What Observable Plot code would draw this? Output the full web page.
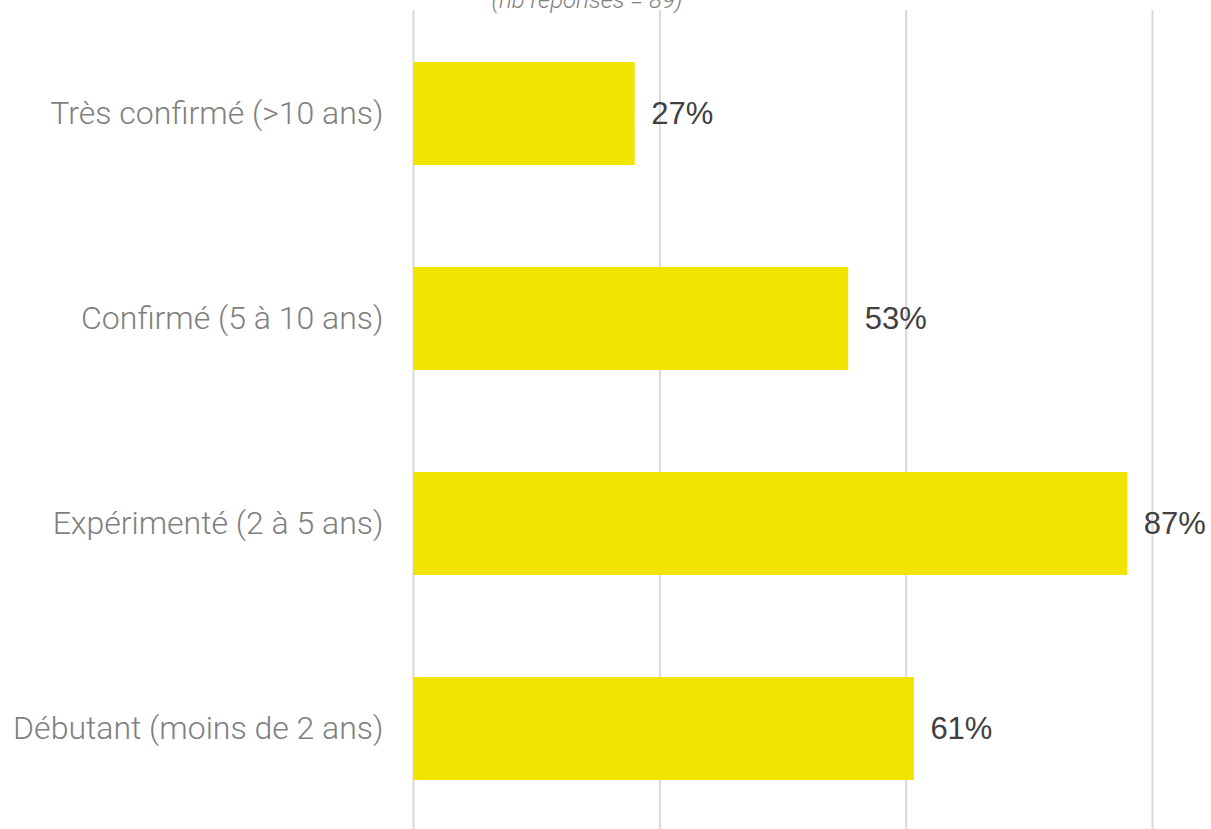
<!DOCTYPE html>
<html>
<head>
<meta charset="utf-8">
<script src="https://cdn.jsdelivr.net/npm/d3@7"></script>
<script src="https://cdn.jsdelivr.net/npm/@observablehq/plot@0.6"></script>
<style>
  html, body { margin: 0; padding: 0; background: #fff; overflow: hidden; }
  #wrap { position: relative; width: 1211px; height: 829px; }
  #note { position: absolute; top: -12px; left: 487px; width: 200px; text-align: center;
          font-family: Roboto, sans-serif; font-weight: 300; font-style: italic; font-size: 24px;
          line-height: 24px; color: #7f7f7f; white-space: nowrap; }
</style>
</head>
<body>
<div id="wrap"><div id="note">(nb réponses = 89)</div></div>
<script>
const categories = [
  "Très confirmé (>10 ans)",
  "Confirmé (5 à 10 ans)",
  "Expérimenté (2 à 5 ans)",
  "Débutant (moins de 2 ans)"
];
const values = [27, 53, 87, 61];
const xTicks = [0, 30, 60, 90];

const data = categories.map((c, i) => ({ cat: c, value: values[i] }));

const chart = Plot.plot({
  width: 1211,
  height: 829,
  marginLeft: 413,
  marginRight: 59,
  marginTop: 10,
  marginBottom: 0,
  x: { domain: [0, 90], axis: null },
  y: { domain: categories, range: [9.6, 832.4], paddingInner: 0.5, paddingOuter: 0.25, axis: null },
  marks: [
    Plot.gridX(xTicks, { stroke: "#d9d9d9", strokeOpacity: 1, strokeWidth: 2 }),
    Plot.barX(data, { x: "value", y: "cat", fill: "#f0e400" }),
    Plot.text(data, {
      x: "value", y: "cat", text: d => d.value + "%", textAnchor: "start", dx: 16,
      fontSize: 31, fill: "#404040", fontFamily: "Liberation Sans, Arial, sans-serif"
    }),
    Plot.text(categories, {
      y: d => d, frameAnchor: "left", textAnchor: "end", dx: -30, text: d => d,
      fontSize: 32, fill: "#7f7f7f", fontFamily: "Roboto, sans-serif", fontWeight: 300
    })
  ]
});
chart.style.position = "absolute";
chart.style.left = "0";
chart.style.top = "0";
document.getElementById("wrap").prepend(chart);
</script>
</body>
</html>
